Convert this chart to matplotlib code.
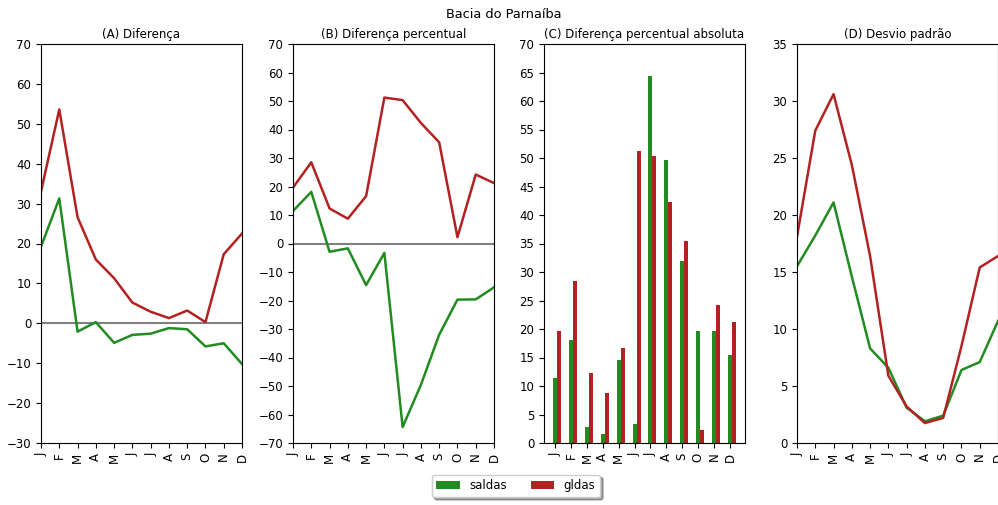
import numpy as np
import matplotlib
matplotlib.use("Agg")
import matplotlib.pyplot as plt

months = ["J", "F", "M", "A", "M", "J", "J", "A", "S", "O", "N", "D"]

# (A) Diferenca
dif_saldas = [19.2, 31.3, -2.1, 0.3, -4.9, -2.9, -2.6, -1.2, -1.5, -5.8, -5.0, -10.2]
dif_gldas = [33.0, 53.6, 26.6, 16.0, 11.3, 5.2, 2.9, 1.3, 3.2, 0.3, 17.3, 22.5]

# (B) Diferenca percentual
pct_saldas = [11.4, 18.1, -2.9, -1.7, -14.6, -3.3, -64.4, -49.6, -32.0, -19.7, -19.6, -15.4]
pct_gldas = [19.6, 28.5, 12.3, 8.7, 16.6, 51.2, 50.3, 42.3, 35.5, 2.2, 24.2, 21.2]

# (C) Diferenca percentual absoluta
abs_saldas = [11.4, 18.1, 2.8, 1.6, 14.6, 3.3, 64.4, 49.7, 31.9, 19.7, 19.6, 15.4]
abs_gldas = [19.6, 28.5, 12.3, 8.7, 16.6, 51.2, 50.3, 42.3, 35.5, 2.2, 24.2, 21.2]

# (D) Desvio padrao
std_saldas = [15.5, 18.2, 21.1, 14.6, 8.3, 6.6, 3.1, 1.9, 2.4, 6.4, 7.1, 10.7]
std_gldas = [18.1, 27.4, 30.6, 24.4, 16.4, 5.9, 3.2, 1.75, 2.2, 8.5, 15.4, 16.4]

green = "forestgreen"
red = "firebrick"
fs = 8.5

W, H = 998, 505
fig = plt.figure(figsize=(W / 100, H / 100), dpi=100)

lefts = [41, 293, 544, 797]
ax_w, ax_top, ax_bot = 201, 44, 443
axes = [fig.add_axes([l / W, (H - ax_bot) / H, ax_w / W, (ax_bot - ax_top) / H]) for l in lefts]

x = np.arange(len(months))
lw = 1.8


def line_panel(ax, s, g, title, ylim, step, zero=False):
    if zero:
        ax.axhline(0, color="grey", lw=1.5, zorder=1)
    ax.plot(x, s, color=green, lw=lw, label="saldas")
    ax.plot(x, g, color=red, lw=lw, label="gldas")
    ax.set_xlim(0, 11)
    ax.set_ylim(*ylim)
    ax.set_yticks(np.arange(ylim[0], ylim[1] + 1, step))
    ax.set_xticks(x)
    ax.set_xticklabels(months, rotation=90, fontsize=fs)
    ax.tick_params(axis="y", labelsize=fs)
    ax.set_title(title, fontsize=fs, pad=4)


line_panel(axes[0], dif_saldas, dif_gldas, "(A) Diferença", (-30, 70), 10, zero=True)
line_panel(axes[1], pct_saldas, pct_gldas, "(B) Diferença percentual", (-70, 70), 10, zero=True)

ax = axes[2]
bw = 0.25
ax.bar(x, abs_saldas, width=bw, color=green, label="saldas")
ax.bar(x + bw, abs_gldas, width=bw, color=red, label="gldas")
ax.set_ylim(0, 70)
ax.set_yticks(np.arange(0, 71, 5))
ax.set_xticks(x)
ax.set_xticklabels(months, rotation=90, fontsize=fs)
ax.tick_params(axis="y", labelsize=fs)
ax.set_title("(C) Diferença percentual absoluta", fontsize=fs, pad=4)

line_panel(axes[3], std_saldas, std_gldas, "(D) Desvio padrão", (0, 35), 5)

fig.text(0.505, 1 - 14 / H, "Bacia do Parnaíba", ha="center", va="center", fontsize=9.3)

handles, labels = axes[2].get_legend_handles_labels()
fig.legend(handles, labels, loc="lower center", bbox_to_anchor=(0.517, 0.004),
           ncol=2, fontsize=fs, shadow=True, fancybox=True, framealpha=1)

fig.savefig("out.png", dpi=100)
